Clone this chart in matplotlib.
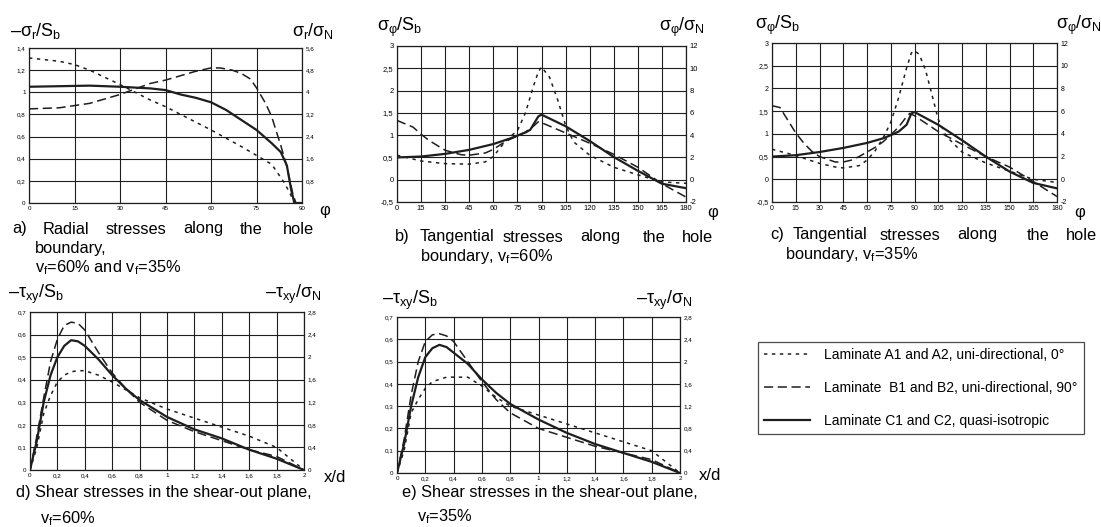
import matplotlib.pyplot as plt

plt.rcParams['font.family'] = ['Liberation Sans', 'DejaVu Sans']
plt.rcParams['mathtext.fontset'] = 'custom'
plt.rcParams['mathtext.rm'] = 'Liberation Sans'
plt.rcParams['mathtext.it'] = 'Liberation Sans'
plt.rcParams['mathtext.bf'] = 'Liberation Sans'

W, H = 1101, 527

# ---- panel a: radial stresses, phi 0..90
phi_a_A = [0, 10, 15, 20, 30, 40, 45, 50, 60, 70, 75, 80, 84, 86, 87.5, 90]
sig_a_A = [1.31, 1.28, 1.25, 1.2, 1.07, 0.93, 0.87, 0.8, 0.66, 0.51, 0.43, 0.35, 0.19, 0.09, 0, 0]
phi_a_B = [0, 10, 15, 20, 25, 30, 35, 40, 45, 50, 55, 60, 63, 67, 70, 73, 75, 78, 80, 83, 85, 87, 88, 90]
sig_a_B = [0.85, 0.86, 0.88, 0.9, 0.94, 0.98, 1.03, 1.08, 1.11, 1.15, 1.19, 1.22, 1.22, 1.2, 1.17,
           1.12, 1.04, 0.9, 0.78, 0.52, 0.33, 0.08, 0, 0]
phi_a_C = [0, 10, 20, 30, 40, 45, 50, 55, 60, 65, 70, 75, 80, 83, 85, 86.5, 87.5, 90]
sig_a_C = [1.05, 1.055, 1.06, 1.05, 1.035, 1.02, 0.98, 0.95, 0.91, 0.84, 0.75, 0.66, 0.54, 0.46, 0.34,
           0.11, 0, 0]

# ---- panel b: tangential stresses, vf=60%
phi_b_A = [0, 15, 30, 45, 55, 60, 65, 70, 75, 80, 85, 88, 90, 95, 100, 105, 110, 120, 135, 150, 165, 180]
sig_b_A = [0.55, 0.42, 0.36, 0.35, 0.4, 0.52, 0.75, 0.95, 1.1, 1.5, 2.1, 2.42, 2.53, 2.3, 1.8, 1.22,
           0.85, 0.55, 0.28, 0.11, -0.05, -0.08]
phi_b_B = [0, 10, 15, 20, 30, 40, 45, 55, 60, 65, 70, 75, 80, 85, 88, 90, 105, 120, 135, 150, 165, 180]
sig_b_B = [1.33, 1.18, 1.02, 0.88, 0.66, 0.56, 0.55, 0.6, 0.68, 0.8, 0.9, 0.98, 1.07, 1.2, 1.3, 1.28,
           1.05, 0.82, 0.57, 0.28, -0.09, -0.39]
phi_b_C = [0, 15, 30, 45, 60, 70, 75, 80, 83, 86, 88, 90, 105, 120, 135, 150, 165, 180]
sig_b_C = [0.5, 0.52, 0.58, 0.67, 0.8, 0.92, 0.99, 1.06, 1.12, 1.3, 1.42, 1.46, 1.2, 0.87, 0.51, 0.2,
           -0.09, -0.19]

# ---- panel c: tangential stresses, vf=35%
phi_c_A = [0, 10, 15, 30, 40, 45, 55, 60, 65, 70, 75, 80, 85, 88, 90, 93, 97, 100, 105, 110, 120, 135,
           150, 165, 180]
sig_c_A = [0.66, 0.57, 0.52, 0.35, 0.27, 0.25, 0.3, 0.42, 0.62, 0.9, 1.25, 1.8, 2.45, 2.78, 2.83, 2.75,
           2.4, 2.0, 1.32, 0.95, 0.6, 0.36, 0.18, 0.0, -0.07]
phi_c_B = [0, 5, 10, 15, 20, 25, 30, 40, 45, 50, 55, 60, 65, 70, 75, 80, 85, 87, 90, 105, 120, 135, 150,
           165, 180]
sig_c_B = [1.62, 1.58, 1.3, 1.02, 0.8, 0.62, 0.5, 0.38, 0.38, 0.42, 0.5, 0.6, 0.7, 0.82, 0.98, 1.15,
           1.38, 1.45, 1.4, 1.05, 0.77, 0.5, 0.27, -0.05, -0.38]
phi_c_C = [0, 15, 30, 45, 60, 70, 75, 80, 85, 88, 90, 105, 120, 135, 150, 165, 180]
sig_c_C = [0.5, 0.53, 0.6, 0.69, 0.8, 0.9, 0.97, 1.05, 1.2, 1.45, 1.48, 1.2, 0.86, 0.5, 0.17, -0.08, -0.2]

# ---- panels d, e: shear stresses in shear-out plane
xd = [0, 0.05, 0.1, 0.15, 0.2, 0.25, 0.3, 0.35, 0.4, 0.5, 0.6, 0.7, 0.8, 1.0, 1.2, 1.4, 1.6, 1.8, 2.0]
tau_d_A = [0, 0.1, 0.25, 0.33, 0.39, 0.42, 0.435, 0.44, 0.44, 0.42, 0.39, 0.355, 0.32, 0.27, 0.23,
           0.19, 0.15, 0.1, 0]
tau_d_B = [0, 0.15, 0.32, 0.48, 0.58, 0.64, 0.655, 0.65, 0.62, 0.52, 0.43, 0.36, 0.3, 0.22, 0.17, 0.13,
           0.09, 0.06, 0]
tau_d_C = [0, 0.13, 0.3, 0.42, 0.5, 0.55, 0.575, 0.57, 0.55, 0.49, 0.42, 0.36, 0.31, 0.235, 0.18, 0.14,
           0.09, 0.05, 0]
tau_e_A = [0, 0.1, 0.27, 0.33, 0.38, 0.41, 0.42, 0.43, 0.43, 0.43, 0.39, 0.34, 0.3, 0.26, 0.22, 0.18,
           0.14, 0.1, 0]
tau_e_B = [0, 0.15, 0.35, 0.5, 0.59, 0.62, 0.625, 0.615, 0.59, 0.5, 0.41, 0.33, 0.27, 0.2, 0.16, 0.12,
           0.09, 0.06, 0]
tau_e_C = [0, 0.13, 0.3, 0.43, 0.52, 0.56, 0.575, 0.565, 0.54, 0.49, 0.42, 0.36, 0.31, 0.24, 0.18, 0.13,
           0.09, 0.05, 0]

legend_labels = ['Laminate A1 and A2, uni-directional, 0°',
                 'Laminate  B1 and B2, uni-directional, 90°',
                 'Laminate C1 and C2, quasi-isotropic']

styles = [dict(ls=(0, (2.2, 3.0)), lw=1.1),
          dict(ls=(0, (6.0, 3.0)), lw=1.1),
          dict(ls='-', lw=1.6)]
ink = '#1e1e1e'

fig = plt.figure(figsize=(W / 100, H / 100), dpi=100)


def px_axes(l, t, r, b):
    return fig.add_axes([l / W, 1 - b / H, (r - l) / W, (b - t) / H])


def setup(ax, xlim, ylim, xticks, xlabels, yticks, ylabels, rticks, rlabels, fs=5):
    ax.set_xlim(*xlim)
    ax.set_ylim(*ylim)
    ax.set_xticks(xticks)
    ax.set_xticklabels(xlabels, fontsize=fs)
    ax.set_yticks(yticks)
    ax.set_yticklabels(ylabels, fontsize=fs)
    ax.tick_params(length=0, pad=2.5)
    ax.grid(True, color=ink, lw=0.8)
    for s in ax.spines.values():
        s.set_color(ink)
        s.set_linewidth(0.9)
    r = ax.twinx()
    r.set_ylim(ylim[0] * 4, ylim[1] * 4)
    r.set_yticks(rticks)
    r.set_yticklabels(rlabels, fontsize=fs)
    r.tick_params(length=0, pad=2.5)
    for s in r.spines.values():
        s.set_visible(False)
    return r


def curves(ax, xs, ys):
    hs = []
    for x, y, st in zip(xs, ys, styles):
        h, = ax.plot(x, y, color=ink, **st)
        hs.append(h)
    return hs


def txt(x, y, s, size=11.8, ha='left'):
    fig.text(x / W, 1 - y / H, s, fontsize=size, ha=ha, va='center')


phi_ticks_a = [0, 15, 30, 45, 60, 75, 90]
phi_ticks_b = list(range(0, 181, 15))
tick_x_de = [0, 0.2, 0.4, 0.6, 0.8, 1.0, 1.2, 1.4, 1.6, 1.8, 2.0]
lab_x_de = ['0', '0,2', '0,4', '0,6', '0,8', '1', '1,2', '1,4', '1,6', '1,8', '2']

# a
ax = px_axes(29, 48, 302, 203)
setup(ax, (0, 90), (0, 1.4), phi_ticks_a, [str(v) for v in phi_ticks_a],
      [0, 0.2, 0.4, 0.6, 0.8, 1.0, 1.2, 1.4], ['0', '0,2', '0,4', '0,6', '0,8', '1', '1,2', '1,4'],
      [0.8, 1.6, 2.4, 3.2, 4.0, 4.8, 5.6], ['0,8', '1,6', '2,4', '3,2', '4', '4,8', '5,6'], fs=4.5)
handles = curves(ax, [phi_a_A, phi_a_B, phi_a_C], [sig_a_A, sig_a_B, sig_a_C])

# b
ax = px_axes(397, 46, 686, 202)
setup(ax, (0, 180), (-0.5, 3), phi_ticks_b, [str(v) for v in phi_ticks_b],
      [-0.5, 0, 0.5, 1, 1.5, 2, 2.5, 3], ['-0,5', '0', '0,5', '1', '1,5', '2', '2,5', '3'],
      list(range(-2, 13, 2)), [str(v) for v in range(-2, 13, 2)], fs=5.5)
curves(ax, [phi_b_A, phi_b_B, phi_b_C], [sig_b_A, sig_b_B, sig_b_C])

# c
ax = px_axes(772, 43, 1057, 202)
setup(ax, (0, 180), (-0.5, 3), phi_ticks_b, [str(v) for v in phi_ticks_b],
      [-0.5, 0, 0.5, 1, 1.5, 2, 2.5, 3], ['-0,5', '0', '0,5', '1', '1,5', '2', '2,5', '3'],
      list(range(-2, 13, 2)), [str(v) for v in range(-2, 13, 2)], fs=5)
curves(ax, [phi_c_A, phi_c_B, phi_c_C], [sig_c_A, sig_c_B, sig_c_C])

# d
tau_ticks = [0, 0.1, 0.2, 0.3, 0.4, 0.5, 0.6, 0.7]
tau_labels = ['0', '0,1', '0,2', '0,3', '0,4', '0,5', '0,6', '0,7']
r_ticks = [0, 0.4, 0.8, 1.2, 1.6, 2.0, 2.4, 2.8]
r_labels = ['0', '0,4', '0,8', '1,2', '1,6', '2', '2,4', '2,8']
ax = px_axes(30, 312, 304, 470)
setup(ax, (0, 2), (0, 0.7), tick_x_de, lab_x_de, tau_ticks, tau_labels, r_ticks, r_labels, fs=4.5)
curves(ax, [xd, xd, xd], [tau_d_A, tau_d_B, tau_d_C])

# e
ax = px_axes(397, 317, 680, 473)
setup(ax, (0, 2), (0, 0.7), tick_x_de, lab_x_de, tau_ticks, tau_labels, r_ticks, r_labels, fs=4.5)
curves(ax, [xd, xd, xd], [tau_e_A, tau_e_B, tau_e_C])

# axis titles
lab = 13
txt(10, 31, '–' + r'$\sigma_r/S_b$', lab)
txt(292, 31, r'$\sigma_r/\sigma_N$', lab)
txt(377, 27, r'$\sigma_\varphi/S_b$', lab)
txt(659, 27, r'$\sigma_\varphi/\sigma_N$', lab)
txt(755, 25, r'$\sigma_\varphi/S_b$', lab)
txt(1056, 25, r'$\sigma_\varphi/\sigma_N$', lab)
txt(8, 294, '–' + r'$\tau_{xy}/S_b$', lab)
txt(265, 294, '–' + r'$\tau_{xy}/\sigma_N$', lab)
txt(382, 300, '–' + r'$\tau_{xy}/S_b$', lab)
txt(636, 300, '–' + r'$\tau_{xy}/\sigma_N$', lab)
txt(319, 211, 'φ', 12)
txt(707, 213, 'φ', 12)
txt(1074, 213, 'φ', 12)
txt(324, 477, 'x/d', 12)
txt(699, 476, 'x/d', 12)

# captions (justified first lines)
for x, w in zip([12, 43, 106, 183, 240, 283], ['a)', 'Radial', 'stresses', 'along', 'the', 'hole']):
    txt(x, 229, w)
txt(35, 249, 'boundary,')
txt(35, 268, r'v$_\mathregular{f}$=60% and v$_\mathregular{f}$=35%')

for x, w in zip([395, 420, 503, 580, 643, 682], ['b)', 'Tangential', 'stresses', 'along', 'the', 'hole']):
    txt(x, 237, w)
txt(420, 256, r'boundary, v$_\mathregular{f}$=60%')

for x, w in zip([770, 793, 880, 957, 1027, 1066], ['c)', 'Tangential', 'stresses', 'along', 'the', 'hole']):
    txt(x, 235, w)
txt(785, 255, r'boundary, v$_\mathregular{f}$=35%')

txt(16, 492, 'd) Shear stresses in the shear-out plane,')
txt(40, 519, r'v$_\mathregular{f}$=60%')
txt(402, 493, 'e) Shear stresses in the shear-out plane,')
txt(417, 517, r'v$_\mathregular{f}$=35%')

leg = fig.legend(handles, legend_labels, loc='upper left',
                 bbox_to_anchor=(758 / W, 1 - 342 / H),
                 fontsize=10, handlelength=3.3, labelspacing=1.35,
                 frameon=True, fancybox=False, borderaxespad=0, borderpad=0.45, handletextpad=1.0)
leg.get_frame().set_edgecolor(ink)
leg.get_frame().set_linewidth(0.9)

fig.savefig('out.png', dpi=100)
